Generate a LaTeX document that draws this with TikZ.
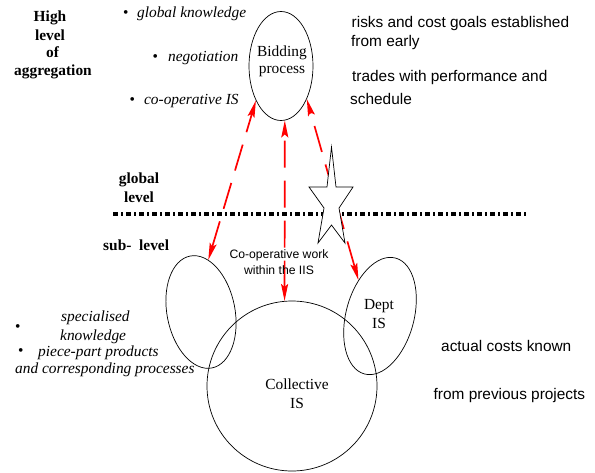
\documentclass[tikz,border=0pt]{standalone}
\usepackage{fontspec}
\setmainfont{Liberation Serif}
\setsansfont{Liberation Sans}
\usetikzlibrary{arrows.meta,shapes.geometric}

\tikzset{
  hdr/.style={font=\fontsize{15.4}{18}\selectfont\bfseries, anchor=base, inner sep=0pt},
  itm/.style={font=\fontsize{15.4}{18}\selectfont\itshape, anchor=base west, inner sep=0pt},
  dotitm/.style={font=\fontsize{15.4}{18}\selectfont, anchor=base west, inner sep=0pt},
  note/.style={font=\sffamily\fontsize{15.4}{18}\selectfont, anchor=base west, inner sep=0pt},
  inlbl/.style={font=\fontsize{15.4}{18}\selectfont, anchor=base, inner sep=0pt},
  coop/.style={font=\sffamily\fontsize{12.2}{15}\selectfont, anchor=base, inner sep=0pt},
  blob/.style={draw, ellipse, inner sep=0pt, line width=0.7pt},
  link/.style={red, line width=1.7pt, dash pattern=on 27pt off 13pt,
    {Stealth[length=17pt,width=7pt,inset=3pt]}-{Stealth[length=17pt,width=7pt,inset=3pt]}},
  lvl/.style={line width=4pt, dash pattern=on 5pt off 3pt on 2pt off 3pt},
}

\begin{document}
\begin{tikzpicture}[x=1pt,y=1pt,yscale=-1,xscale=1]
\useasboundingbox (0,0) rectangle (595,472);
%Shape: Ellipse [bidding]
\node[blob, minimum width=64pt, minimum height=109pt] (bid) at (281,66) {};
%Shape: Ellipse [specialised]
\node[blob, minimum width=68pt, minimum height=114pt, rotate=11] (spec) at (201,312) {};
%Shape: Ellipse [dept]
\node[blob, minimum width=68pt, minimum height=120pt, rotate=-15] (dept) at (380,316) {};
%Shape: Circle [collective]
\node[blob, circle, minimum size=170pt] (coll) at (292,386) {};
%Straight Lines [levels]
\coordinate (lvlL) at (113,214);
\coordinate (lvlR) at (527,214);
\draw[lvl] (lvlL) -- (lvlR);
%Straight Lines [links]
\draw[link] (spec.71) -- (bid.234);
\draw[link] (coll.95) -- (bid.274);
\draw[link] (dept.136) -- (bid.308);
%Shape: Star
\draw[fill=white, line width=0.7pt] (331.5,147) -- (336,187) -- (353,187) -- (339,208) -- (345,243) -- (331.5,225) -- (318,243) -- (324,208) -- (309,187) -- (327,187) -- cycle;
% Text Node
\node[hdr] (hi1) at (50,21.5) {High};
\node[hdr] (hi2) at (50,40) {level};
\node[hdr] (hi3) at (52.5,57) {of};
\node[hdr] (hi4) at (53,75) {aggregation};
% Text Node
\node[hdr] (gl1) at (139,183) {global};
\node[hdr] (gl2) at (139,202) {level};
\node[hdr, anchor=base west] (sub) at (103,250) {sub-\ \ level};
% Text Node
\node[dotitm] (kn1) at (123,17) {\textbullet\hspace{8.5pt}\textit{global knowledge}};
\node[dotitm] (kn2) at (152.5,61) {\textbullet\hspace{10pt}\textit{negotiation}};
\node[dotitm] (kn3) at (129.5,104) {\textbullet\hspace{9pt}\textit{co-operative IS}};
% Text Node
\node[inlbl] (bid1) at (282,56) {Bidding};
\node[inlbl] (bid2) at (282,73) {process};
% Text Node
\node[note] (rk1) at (351.5,27) {risks and cost goals established};
\node[note] (rk2) at (351,46.5) {from early};
\node[note] (rk3) at (352,81.5) {trades with performance and};
\node[note] (rk4) at (350,104) {schedule};
% Text Node
\node[coop] (cw1) at (279,258) {Co-operative work};
\node[coop] (cw2) at (279,274) {within the IIS};
% Text Node
\node[inlbl] (dp1) at (379,309) {Dept};
\node[inlbl] (dp2) at (379,328) {IS};
\node[inlbl] (cl1) at (297,389) {Collective};
\node[inlbl] (cl2) at (297,408) {IS};
% Text Node
\node[dotitm] (b1) at (15,331) {\textbullet};
\node[dotitm] (b2) at (18,355) {\textbullet};
\node[itm] (sp1) at (61,321) {specialised};
\node[itm] (sp2) at (60,340) {knowledge};
\node[itm] (sp3) at (38,356) {piece-part products};
\node[itm] (sp4) at (15,373) {and corresponding processes};
% Text Node
\node[note] (ac1) at (441,351) {actual costs known};
\node[note] (ac2) at (433.5,399) {from previous projects};
\end{tikzpicture}
\end{document}
